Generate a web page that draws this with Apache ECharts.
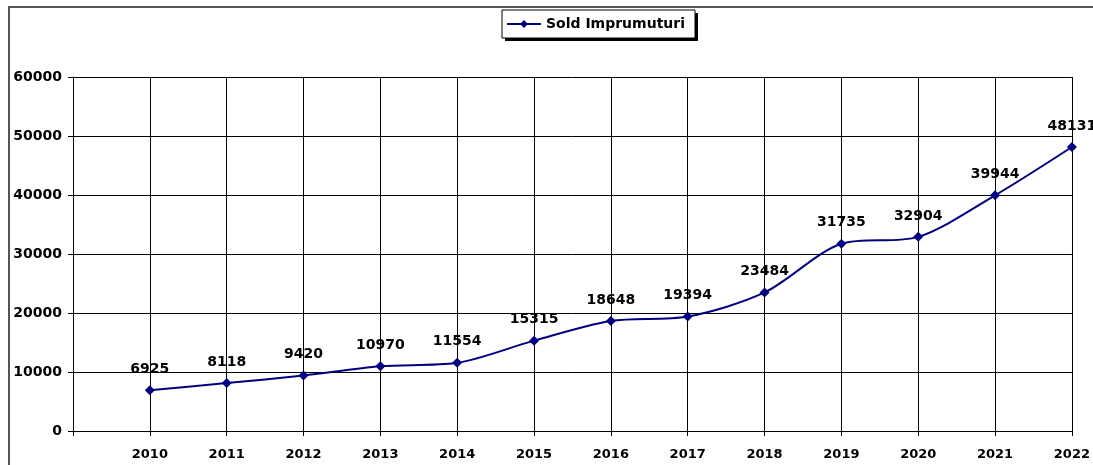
<!DOCTYPE html>
<html style="height: 100%">
<head>
    <meta charset="utf-8">
</head>
<body style="height: 100%; margin: 0; background: #fff">
<div id="chart" style="width: 1093px; height: 465px"></div>
<script src="https://cdn.jsdelivr.net/npm/echarts@6/dist/echarts.min.js"></script>
<script type="text/javascript">
    // datele graficului
    var years = [2010, 2011, 2012, 2013, 2014, 2015, 2016, 2017, 2018, 2019, 2020, 2021, 2022];
    var sold = [6925, 8118, 9420, 10970, 11554, 15315, 18648, 19394, 23484, 31735, 32904, 39944, 48131];
    var seriesName = 'Sold Imprumuturi';

    var points = [];
    for (var i = 0; i < years.length; i++) {
        points.push([years[i], sold[i]]);
    }

    var myChart = echarts.init(document.getElementById('chart'));
    var font = 'DejaVu Sans, Arial, sans-serif';

    var option = {
        animation: false,
        backgroundColor: '#fff',
        graphic: [{
            // chenar exterior (stanga + sus)
            type: 'polyline',
            shape: { points: [[9, 465], [9, 7], [1093, 7]] },
            style: { stroke: '#555', lineWidth: 2, fill: null }
        }, {
            // umbra legendei
            type: 'rect',
            shape: { x: 505, y: 13, width: 193, height: 28 },
            style: { fill: '#000' }
        }, {
            // caseta legendei
            type: 'rect',
            shape: { x: 502, y: 10, width: 193, height: 28 },
            style: { fill: '#fff', stroke: '#000', lineWidth: 1 }
        }],
        legend: {
            top: 17,
            left: 506,
            data: [seriesName],
            itemWidth: 34,
            itemHeight: 10,
            itemGap: 6,
            padding: 0,
            textStyle: { fontFamily: font, fontWeight: 'bold', fontSize: 14, color: '#000' }
        },
        grid: { left: 73, right: 20, top: 77, bottom: 34 },
        xAxis: {
            type: 'value',
            min: 2009,
            max: 2022,
            interval: 1,
            axisLine: { lineStyle: { color: '#000', width: 1 } },
            axisTick: { show: true, length: 5, lineStyle: { color: '#000' } },
            splitLine: { show: true, lineStyle: { color: '#000', width: 1 } },
            axisLabel: {
                margin: 17,
                fontFamily: font, fontWeight: 'bold', fontSize: 13, color: '#000',
                formatter: function (v) { return v === 2009 ? '' : String(v); }
            }
        },
        yAxis: {
            type: 'value',
            min: 0,
            max: 60000,
            interval: 10000,
            axisLine: { show: true, lineStyle: { color: '#000', width: 1 } },
            axisTick: { show: true, length: 5, lineStyle: { color: '#000' } },
            splitLine: { show: true, lineStyle: { color: '#000', width: 1 } },
            axisLabel: {
                margin: 11,
                fontFamily: font, fontWeight: 'bold', fontSize: 14, color: '#000',
                formatter: function (v) { return String(v); }
            }
        },
        series: [{
            name: seriesName,
            type: 'line',
            data: points,
            smooth: 0.3,
            symbol: 'diamond',
            symbolSize: 10,
            color: '#000080',
            lineStyle: { color: '#000080', width: 2 },
            itemStyle: { color: '#000080' },
            label: {
                show: true,
                position: 'top',
                distance: 9,
                fontFamily: font, fontWeight: 'bold', fontSize: 14, color: '#000'
            }
        }]
    };
    myChart.setOption(option);
</script>
</body>
</html>
